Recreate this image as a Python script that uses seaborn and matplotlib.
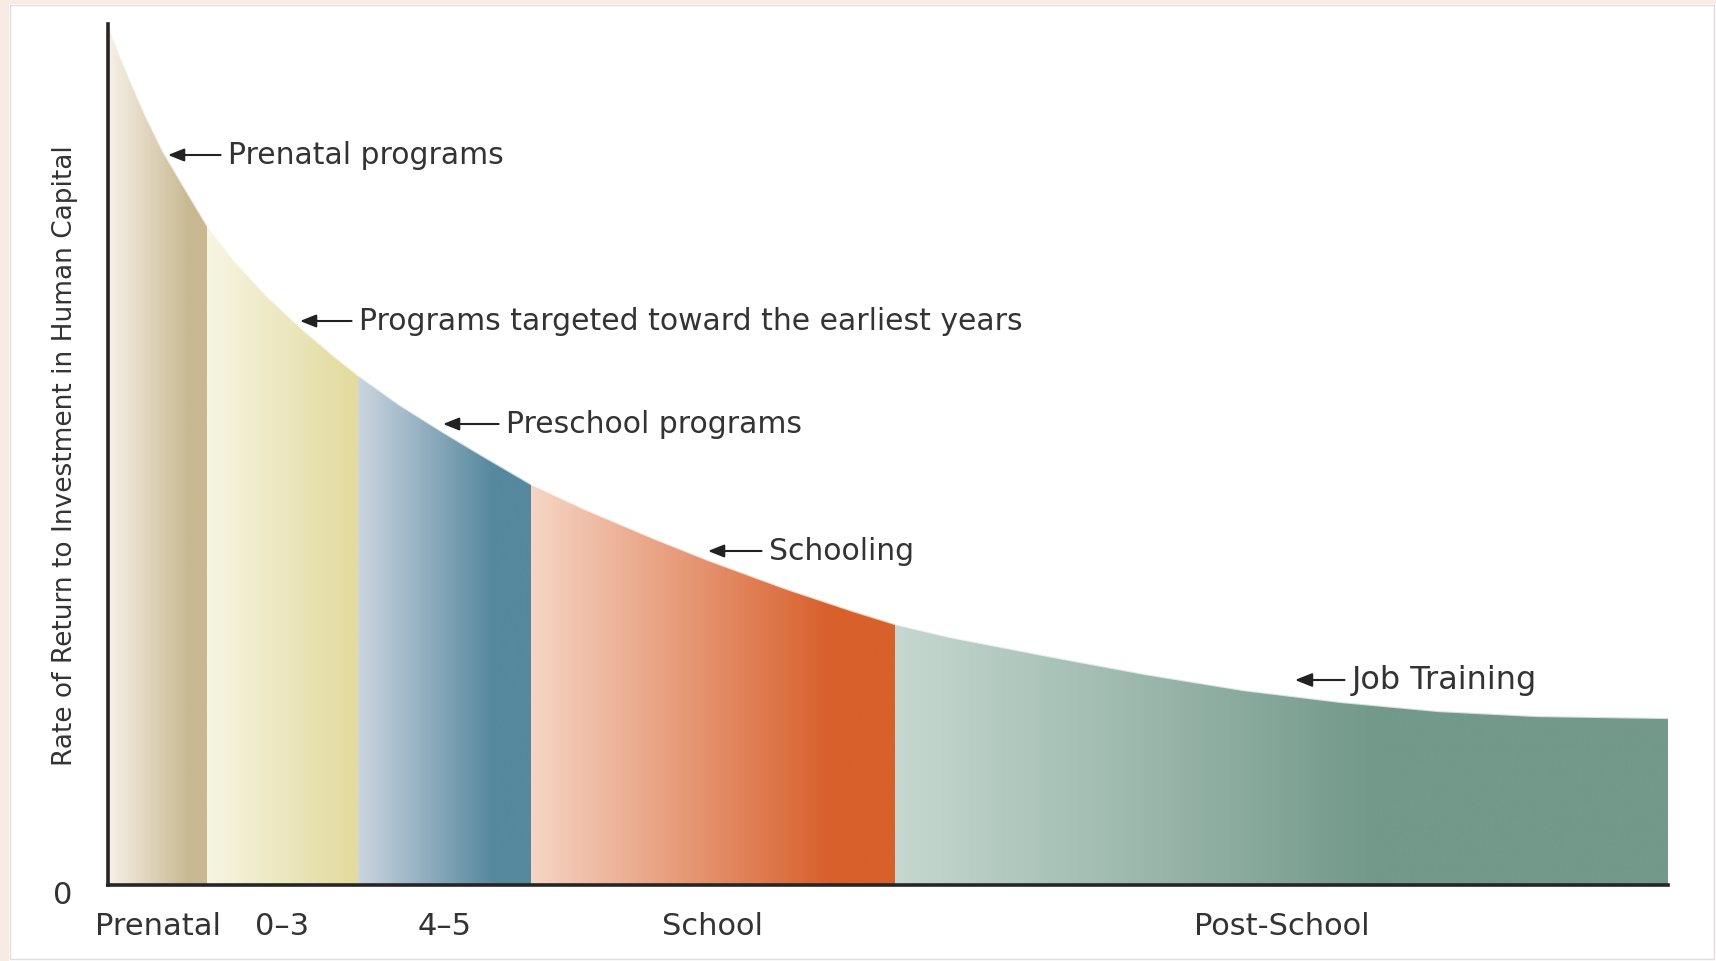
"""
plot.py
=======
Heckman curve: rate of return to investment in human capital by life stage.
"""

import numpy as np
import matplotlib
matplotlib.use('Agg')
import matplotlib.pyplot as plt
from matplotlib.colors import to_rgb
from matplotlib.patches import Polygon, Rectangle
import seaborn as sns

# =============================================================================
# Data (arbitrary units)
# =============================================================================
stages = ['Prenatal', '0–3', '4–5', 'School', 'Post-School']
stage_edges = [0, 9.9, 25.0, 42.3, 78.7, 156.0]

curve_x = [0, 0.5, 1.2, 2.4, 3.7, 5.5, 7.5, 9.9, 12.5, 15.9, 19.2, 22.5, 25.0,
           29.2, 33.5, 37.5, 42.3, 47.9, 54.5, 60.0, 67.9, 74.5, 78.7, 84.2,
           94.0, 103.7, 113.5, 123.3, 133.0, 142.8, 156.0]
curve_y = [86.1, 84.8, 83.0, 80.1, 77.1, 73.4, 70.0, 66.0, 62.6, 58.9, 55.8,
           53.0, 51.0, 48.0, 45.3, 42.9, 40.1, 37.5, 34.7, 32.5, 29.6, 27.4,
           26.1, 24.8, 22.9, 21.1, 19.5, 18.3, 17.4, 16.9, 16.7]

notes = ['Prenatal programs',
         'Programs targeted toward the earliest years',
         'Preschool programs',
         'Schooling',
         'Job Training']
note_tip_x = [6.0, 19.2, 33.5, 60.0, 118.7]
note_tip_y = [73.0, 56.4, 46.1, 33.4, 20.5]

# =============================================================================
# Style
# =============================================================================
stage_light = ['#F6F1E8', '#F7F6E3', '#CCD5E0', '#F6D5C5', '#C6D8CF']
stage_dark = ['#C9B992', '#E3DBA0', '#56889E', '#D8602C', '#72998A']
stage_ramp = [0.82, 0.95, 0.78, 0.82, 0.62]
note_text_x = [12.0, 25.1, 39.8, 66.1, 124.4]
note_size = [21.5, 21.5, 21.5, 21.5, 23]

TXT = '#333333'
FS = 22

sns.set_style('white')
plt.rcParams['font.family'] = ['DejaVu Sans']

fig = plt.figure(figsize=(17.16, 9.62), dpi=100)
ax = fig.add_axes([108 / 1716, 76 / 962, 1560 / 1716, 861 / 962])

# page frame like the screenshot
fig.patches.append(Rectangle((0, 1 - 5 / 962), 1, 5 / 962, transform=fig.transFigure,
                             facecolor='#F8EAE4', edgecolor='none', zorder=0))
fig.patches.append(Rectangle((0, 0), 9 / 1716, 1, transform=fig.transFigure,
                             facecolor='#F8EAE4', edgecolor='none', zorder=0))
fig.patches.append(Rectangle((10 / 1716, 2 / 962), 1 - 12 / 1716, 1 - 8 / 962,
                             transform=fig.transFigure, facecolor='none',
                             edgecolor='#E2DCDC', lw=1.0, zorder=0))

# =============================================================================
# Gradient bands clipped under the curve
# =============================================================================
cx = np.array(curve_x)
cy = np.array(curve_y)
ymax = cy.max()

for i, name in enumerate(stages):
    x0, x1 = stage_edges[i], stage_edges[i + 1]
    sel = (cx >= x0) & (cx <= x1)
    verts = [(x0, 0)] + list(zip(cx[sel], cy[sel])) + [(x1, 0)]
    poly = Polygon(verts, closed=True, facecolor='none', edgecolor='none')
    ax.add_patch(poly)

    t = np.linspace(0, 1, 300)
    f = np.clip(t / stage_ramp[i], 0, 1)
    lo = np.array(to_rgb(stage_light[i]))
    hi = np.array(to_rgb(stage_dark[i]))
    grad = lo[None, :] + (hi - lo)[None, :] * f[:, None]
    im = ax.imshow(grad[None, :, :], extent=(x0, x1, 0, ymax), origin='lower',
                   aspect='auto', interpolation='bilinear', zorder=1)
    im.set_clip_path(poly)

# soft light edge along the curve
sns.lineplot(x=cx, y=cy, ax=ax, color='white', lw=1.6, alpha=0.7, zorder=2)

# =============================================================================
# Annotations
# =============================================================================
for label, tx, ty, lx, fs in zip(notes, note_tip_x, note_tip_y, note_text_x, note_size):
    ax.annotate(label, xy=(tx, ty), xytext=(lx, ty), fontsize=fs, color=TXT,
                ha='left', va='center', zorder=4,
                arrowprops=dict(arrowstyle='-|>,head_length=0.45,head_width=0.18',
                                color='#222222', lw=1.5, shrinkA=3, shrinkB=0))

# =============================================================================
# Axes
# =============================================================================
ax.set_xlim(0, stage_edges[-1])
ax.set_ylim(0, ymax)

centers = [(stage_edges[i] + stage_edges[i + 1]) / 2 for i in range(len(stages))]
ax.set_xticks(centers)
ax.set_xticklabels(stages, fontsize=FS, color=TXT)
ax.set_yticks([])
ax.tick_params(axis='x', length=0, pad=19)

ax.text(-0.0288, -0.0105, '0', transform=ax.transAxes, fontsize=FS, color=TXT,
        ha='center', va='center')

ax.set_ylabel('Rate of Return to Investment in Human Capital', fontsize=19, color=TXT)
ax.yaxis.set_label_coords(-0.019, 0.5)

for side in ['top', 'right']:
    ax.spines[side].set_visible(False)
for side in ['left', 'bottom']:
    ax.spines[side].set_linewidth(2.6)
    ax.spines[side].set_color('#262626')
    ax.spines[side].set_zorder(5)

fig.savefig('out.png', dpi=100, facecolor='white')
plt.close(fig)
